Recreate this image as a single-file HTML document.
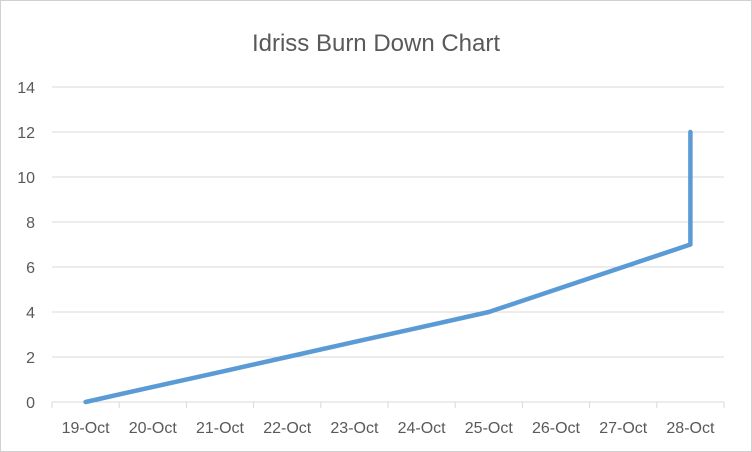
<!DOCTYPE html>
<html><head><meta charset="utf-8"><style>
body{margin:0;background:#fff}
svg{display:block;font-family:"Liberation Sans",sans-serif}
</style></head><body>
<svg id="chart" width="752" height="452">
<rect x="0.5" y="0.5" width="751" height="451" fill="#fff" stroke="#d0d0d0"/>
<text x="376" y="51" text-anchor="middle" font-size="24" fill="#595959">Idriss Burn Down Chart</text>
<g id="grid"></g><g id="axes"></g><g id="series"></g>
</svg>
<script>
const categories=["19-Oct","20-Oct","21-Oct","22-Oct","23-Oct","24-Oct","25-Oct","26-Oct","27-Oct","28-Oct"];
const pointIndex=[0,1,2,3,4,5,6,7,8,9,9];
const pointValues=[0,0.67,1.33,2,2.67,3.33,4,5,6,7,12];
const yTicks=[0,2,4,6,8,10,12,14];
const NS="http://www.w3.org/2000/svg";
const L=52,R=724,T=87,B=402,yMax=14;
const bw=(R-L)/categories.length;
const xs=i=>L+bw*(i+0.5);
const ys=v=>B-(v/yMax)*(B-T);
function mk(t,a,p){const e=document.createElementNS(NS,t);for(const k in a)e.setAttribute(k,a[k]);p.appendChild(e);return e;}
const grid=document.getElementById('grid'),axes=document.getElementById('axes'),ser=document.getElementById('series');
yTicks.forEach(v=>{
 if(v>0){const g=mk('line',{x1:L,x2:R,y1:ys(v),y2:ys(v),stroke:'#d9d9d9','stroke-width':1},grid);
 
 }
 const t=mk('text',{x:35,y:ys(v)+6,'text-anchor':'end','font-size':16,fill:'#595959'},axes);t.textContent=v;
 
 
});
const ax=mk('line',{x1:L,x2:R,y1:B,y2:B,stroke:'#d9d9d9','stroke-width':1},axes);


for(let i=0;i<=categories.length;i++){const tk=mk('line',{x1:L+bw*i,x2:L+bw*i,y1:B,y2:B+6,stroke:'#d9d9d9'},axes);
 
 }
categories.forEach((c,i)=>{const t=mk('text',{x:xs(i),y:433,'text-anchor':'middle','font-size':16,fill:'#595959'},axes);t.textContent=c;
 
 });
const pts=pointValues.map((v,k)=>xs(pointIndex[k])+','+ys(v)).join(' ');
const pl=mk('polyline',{points:pts,fill:'none',stroke:'#5b9bd5','stroke-width':4.5,'stroke-linejoin':'round','stroke-linecap':'round'},ser);


</script>
</body></html>
